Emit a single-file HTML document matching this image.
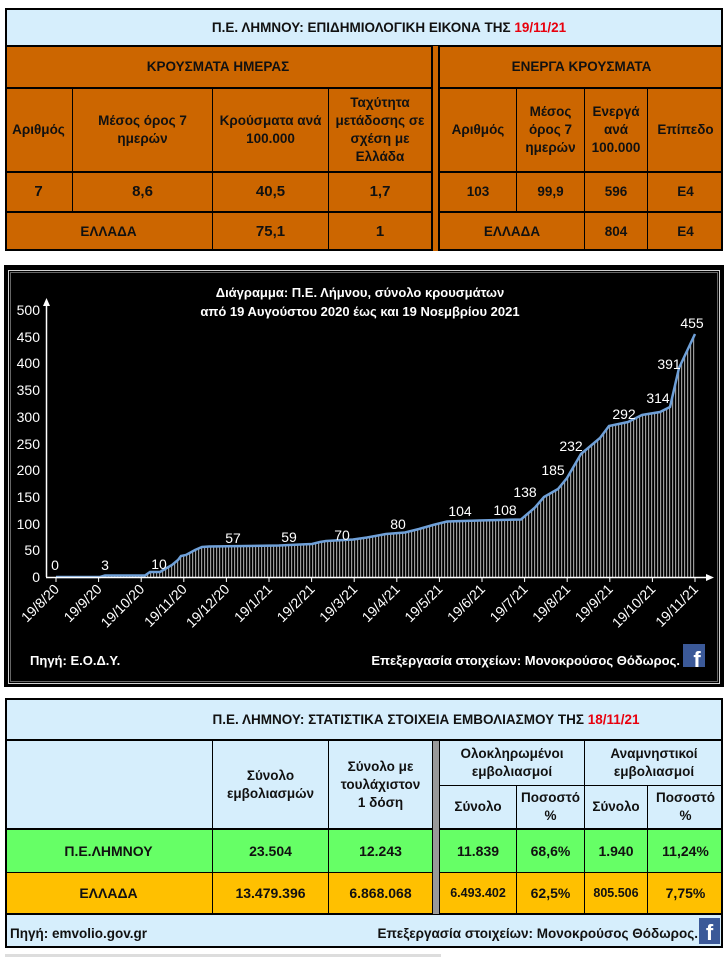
<!DOCTYPE html>
<html><head><meta charset="utf-8">
<style>
body{margin:0;width:727px;height:959px;background:#fff;position:relative;overflow:hidden;font-family:"Liberation Sans","DejaVu Sans",sans-serif;}
.a{position:absolute;box-sizing:border-box;}
.c{position:absolute;display:flex;align-items:center;justify-content:center;text-align:center;font-weight:bold;font-size:13.5px;line-height:18px;color:#111;box-sizing:border-box;}
.h{position:absolute;background:#000;}
.red{color:#e8000d;}
</style></head><body>

<!-- TOP TABLE -->
<div class="a" style="left:5px;top:8px;width:718px;height:243px;background:#cc6600;border:2px solid #000;"></div>
<div class="a" style="left:7px;top:10px;width:714px;height:36px;background:#d6eefc;"></div>
<div class="h" style="left:5px;top:45px;width:718px;height:2px"></div>
<div class="h" style="left:5px;top:87px;width:718px;height:2px"></div>
<div class="h" style="left:5px;top:171px;width:718px;height:2px"></div>
<div class="h" style="left:5px;top:211px;width:718px;height:2px"></div>
<div class="a" style="left:431px;top:46px;width:9px;height:205px;background:#cc6600;border-left:2px solid #000;border-right:2px solid #000;"></div>
<div class="h" style="left:72px;top:88px;width:1px;height:124px"></div>
<div class="h" style="left:212px;top:88px;width:1px;height:163px"></div>
<div class="h" style="left:328px;top:88px;width:1px;height:163px"></div>
<div class="h" style="left:516px;top:88px;width:1px;height:124px"></div>
<div class="h" style="left:584px;top:88px;width:1px;height:163px"></div>
<div class="h" style="left:647px;top:88px;width:1px;height:163px"></div>
<div class="c" style="left:5px;top:10px;width:718px;height:36px;padding-left:50px;">Π.Ε. ΛΗΜΝΟΥ: ΕΠΙΔΗΜΙΟΛΟΓΙΚΗ ΕΙΚΟΝΑ ΤΗΣ&nbsp;<span class="red">19/11/21</span></div>
<div class="c" style="left:5px;top:47px;width:426px;height:40px;">ΚΡΟΥΣΜΑΤΑ ΗΜΕΡΑΣ</div>
<div class="c" style="left:440px;top:47px;width:283px;height:40px;">ΕΝΕΡΓΑ ΚΡΟΥΣΜΑΤΑ</div>
<div class="c" style="left:5px;top:89px;width:67px;height:82px;">Αριθμός</div>
<div class="c" style="left:73px;top:89px;width:139px;height:82px;">Μέσος όρος 7<br>ημερών</div>
<div class="c" style="left:213px;top:89px;width:115px;height:82px;">Κρούσματα ανά<br>100.000</div>
<div class="c" style="left:329px;top:89px;width:102px;height:82px;">Ταχύτητα<br>μετάδοσης σε<br>σχέση με<br>Ελλάδα</div>
<div class="c" style="left:440px;top:89px;width:76px;height:82px;">Αριθμός</div>
<div class="c" style="left:517px;top:89px;width:67px;height:82px;">Μέσος<br>όρος 7<br>ημερών</div>
<div class="c" style="left:585px;top:89px;width:62px;height:82px;">Ενεργά<br>ανά<br>100.000</div>
<div class="c" style="left:648px;top:89px;width:75px;height:82px;">Επίπεδο</div>
<div class="c" style="left:5px;top:173px;width:67px;height:38px;font-size:15px;">7</div>
<div class="c" style="left:73px;top:173px;width:139px;height:38px;font-size:15px;">8,6</div>
<div class="c" style="left:213px;top:173px;width:115px;height:38px;font-size:15px;">40,5</div>
<div class="c" style="left:329px;top:173px;width:102px;height:38px;font-size:15px;">1,7</div>
<div class="c" style="left:440px;top:173px;width:76px;height:38px;">103</div>
<div class="c" style="left:517px;top:173px;width:67px;height:38px;">99,9</div>
<div class="c" style="left:585px;top:173px;width:62px;height:38px;">596</div>
<div class="c" style="left:648px;top:173px;width:75px;height:38px;">E4</div>
<div class="c" style="left:5px;top:213px;width:207px;height:38px;">ΕΛΛΑΔΑ</div>
<div class="c" style="left:213px;top:213px;width:115px;height:38px;font-size:15px;">75,1</div>
<div class="c" style="left:329px;top:213px;width:102px;height:38px;font-size:15px;">1</div>
<div class="c" style="left:440px;top:213px;width:144px;height:38px;">ΕΛΛΑΔΑ</div>
<div class="c" style="left:585px;top:213px;width:62px;height:38px;">804</div>
<div class="c" style="left:648px;top:213px;width:75px;height:38px;">E4</div>

<!-- CHART -->
<svg class="a" style="left:0;top:0" width="727" height="959" xmlns="http://www.w3.org/2000/svg">
<defs>
<pattern id="bars" patternUnits="userSpaceOnUse" width="3" height="10">
<rect x="0" y="0" width="1.2" height="10" fill="#9a9a9a"/>
</pattern>
</defs>
<rect x="4" y="265" width="720" height="422" fill="#000"/>
<rect x="8.5" y="270.5" width="711" height="413" fill="none" stroke="#d0d0d0" stroke-width="1"/>
<rect x="10.5" y="272.5" width="707" height="409" fill="none" stroke="#666" stroke-width="1"/>
<g font-family="Liberation Sans, sans-serif" font-weight="bold" font-size="13" fill="#fff" text-anchor="middle">
<text x="360" y="297">Διάγραμμα:  Π.Ε. Λήμνου, σύνολο κρουσμάτων</text>
<text x="360" y="316">από 19 Αυγούστου 2020  έως και 19 Νοεμβρίου 2021</text>
</g>
<path d="M56,577 L100,577 L105,575.5 L145,575.5 L150,572 L160,572 L165,569 L172,565 L178,560 L181,556 L186,555 L195,550 L202,547 L209,546.5 L279,545.5 L300,544.5 L312,544 L320,542 L326,541 L353,539.5 L367,537.5 L386,534 L405,532.5 L419,529 L433,525 L447,521.5 L479,520.5 L521,519.5 L535,507.5 L544,497 L558,489 L567,478 L581,454 L600,438 L609,426 L628,422 L642,415 L660,412 L670,407 L679,368 L695,334 L695,577 Z" fill="url(#bars)"/>
<polyline fill="none" stroke="#6fa0d8" stroke-width="2.5" points="56,577 100,577 105,575.5 145,575.5 150,572 160,572 165,569 172,565 178,560 181,556 186,555 195,550 202,547 209,546.5 279,545.5 300,544.5 312,544 320,542 326,541 353,539.5 367,537.5 386,534 405,532.5 419,529 433,525 447,521.5 479,520.5 521,519.5 535,507.5 544,497 558,489 567,478 581,454 600,438 609,426 628,422 642,415 660,412 670,407 679,368 695,334"/>
<line x1="46.5" y1="577" x2="46.5" y2="303" stroke="#fff" stroke-width="1.5"/>
<polygon points="46.5,298 43,306 50,306" fill="#fff"/>
<line x1="46" y1="577.5" x2="708" y2="577.5" stroke="#fff" stroke-width="1.5"/>
<polygon points="714,577.5 706,574 706,581" fill="#fff"/>
<g font-family="Liberation Sans, sans-serif" font-size="14" fill="#fff" text-anchor="end">
<text x="40" y="582">0</text><text x="40" y="555">50</text><text x="40" y="529">100</text><text x="40" y="502">150</text><text x="40" y="475">200</text><text x="40" y="449">250</text><text x="40" y="422">300</text><text x="40" y="395">350</text><text x="40" y="368">400</text><text x="40" y="342">450</text><text x="40" y="315">500</text>
</g>
<g stroke="#fff" stroke-width="1">
<line x1="56" y1="577" x2="56" y2="582"/><line x1="98.6" y1="577" x2="98.6" y2="582"/><line x1="141.2" y1="577" x2="141.2" y2="582"/><line x1="183.8" y1="577" x2="183.8" y2="582"/><line x1="226.4" y1="577" x2="226.4" y2="582"/><line x1="269" y1="577" x2="269" y2="582"/><line x1="311.6" y1="577" x2="311.6" y2="582"/><line x1="354.2" y1="577" x2="354.2" y2="582"/><line x1="396.8" y1="577" x2="396.8" y2="582"/><line x1="439.4" y1="577" x2="439.4" y2="582"/><line x1="482" y1="577" x2="482" y2="582"/><line x1="524.6" y1="577" x2="524.6" y2="582"/><line x1="567.2" y1="577" x2="567.2" y2="582"/><line x1="609.8" y1="577" x2="609.8" y2="582"/><line x1="652.4" y1="577" x2="652.4" y2="582"/><line x1="695" y1="577" x2="695" y2="582"/>
</g>
<g font-family="Liberation Sans, sans-serif" font-size="14" fill="#fff" text-anchor="end">
<text transform="translate(60,590) rotate(-45)">19/8/20</text>
<text transform="translate(102.6,590) rotate(-45)">19/9/20</text>
<text transform="translate(145.2,590) rotate(-45)">19/10/20</text>
<text transform="translate(187.8,590) rotate(-45)">19/11/20</text>
<text transform="translate(230.4,590) rotate(-45)">19/12/20</text>
<text transform="translate(273,590) rotate(-45)">19/1/21</text>
<text transform="translate(315.6,590) rotate(-45)">19/2/21</text>
<text transform="translate(358.2,590) rotate(-45)">19/3/21</text>
<text transform="translate(400.8,590) rotate(-45)">19/4/21</text>
<text transform="translate(443.4,590) rotate(-45)">19/5/21</text>
<text transform="translate(486,590) rotate(-45)">19/6/21</text>
<text transform="translate(528.6,590) rotate(-45)">19/7/21</text>
<text transform="translate(571.2,590) rotate(-45)">19/8/21</text>
<text transform="translate(613.8,590) rotate(-45)">19/9/21</text>
<text transform="translate(656.4,590) rotate(-45)">19/10/21</text>
<text transform="translate(699,590) rotate(-45)">19/11/21</text>
</g>
<g font-family="Liberation Sans, sans-serif" font-size="14" fill="#fff" text-anchor="middle">
<text x="55" y="570">0</text><text x="105" y="570">3</text><text x="159" y="569">10</text><text x="233" y="543">57</text><text x="289" y="542">59</text><text x="342" y="540">70</text><text x="398" y="529">80</text><text x="460" y="516">104</text><text x="505" y="515">108</text><text x="525" y="497">138</text><text x="553" y="475">185</text><text x="571" y="451">232</text><text x="624" y="419">292</text><text x="658" y="403">314</text><text x="669" y="369">391</text><text x="692" y="328">455</text>
</g>
<g font-family="Liberation Sans, sans-serif" font-weight="bold" font-size="13" fill="#fff">
<text x="30" y="665">Πηγή: Ε.Ο.Δ.Υ.</text>
<text x="680" y="665" text-anchor="end">Επεξεργασία στοιχείων: Μονοκρούσος Θόδωρος.</text>
</g>
<rect x="683" y="644" width="22" height="23" fill="#3b5998"/>
<text x="697" y="667" font-family="Liberation Sans, sans-serif" font-weight="bold" font-size="22" fill="#fff" text-anchor="middle">f</text>
</svg>

<!-- BOTTOM TABLE -->
<div class="a" style="left:5px;top:698px;width:718px;height:250px;background:#d6eefc;border:2px solid #000;"></div>
<div class="h" style="left:5px;top:739px;width:718px;height:2px"></div>
<div class="a" style="left:7px;top:829px;width:714px;height:44px;background:#66ff66;"></div>
<div class="a" style="left:7px;top:873px;width:714px;height:41px;background:#ffc000;"></div>
<div class="h" style="left:5px;top:828px;width:718px;height:2px"></div>
<div class="h" style="left:5px;top:872px;width:718px;height:1px"></div>
<div class="h" style="left:5px;top:913px;width:718px;height:2px"></div>
<div class="h" style="left:440px;top:785px;width:283px;height:1px"></div>
<div class="a" style="left:432px;top:741px;width:8px;height:173px;background:#999;border-left:1px solid #000;border-right:1px solid #000;"></div>
<div class="h" style="left:212px;top:741px;width:1px;height:173px"></div>
<div class="h" style="left:328px;top:741px;width:1px;height:173px"></div>
<div class="h" style="left:516px;top:786px;width:1px;height:128px"></div>
<div class="h" style="left:584px;top:741px;width:1px;height:173px"></div>
<div class="h" style="left:647px;top:786px;width:1px;height:128px"></div>
<div class="c" style="left:5px;top:700px;width:718px;height:39px;padding-left:124px;">Π.Ε. ΛΗΜΝΟΥ: ΣΤΑΤΙΣΤΙΚΑ ΣΤΟΙΧΕΙΑ ΕΜΒΟΛΙΑΣΜΟΥ ΤΗΣ&nbsp;<span class="red">18/11/21</span></div>
<div class="c" style="left:213px;top:741px;width:115px;height:87px;">Σύνολο<br>εμβολιασμών</div>
<div class="c" style="left:329px;top:741px;width:103px;height:87px;">Σύνολο με<br>τουλάχιστον<br>1 δόση</div>
<div class="c" style="left:440px;top:741px;width:144px;height:44px;">Ολοκληρωμένοι<br>εμβολιασμοί</div>
<div class="c" style="left:585px;top:741px;width:138px;height:44px;">Αναμνηστικοί<br>εμβολιασμοί</div>
<div class="c" style="left:440px;top:786px;width:76px;height:42px;">Σύνολο</div>
<div class="c" style="left:517px;top:786px;width:67px;height:42px;">Ποσοστό<br>%</div>
<div class="c" style="left:585px;top:786px;width:62px;height:42px;">Σύνολο</div>
<div class="c" style="left:648px;top:786px;width:75px;height:42px;">Ποσοστό<br>%</div>
<div class="c" style="left:5px;top:830px;width:207px;height:42px;font-size:14px;">Π.Ε.ΛΗΜΝΟΥ</div>
<div class="c" style="left:213px;top:830px;width:115px;height:42px;font-size:14px;">23.504</div>
<div class="c" style="left:329px;top:830px;width:103px;height:42px;font-size:14px;">12.243</div>
<div class="c" style="left:440px;top:830px;width:76px;height:42px;font-size:14px;">11.839</div>
<div class="c" style="left:517px;top:830px;width:67px;height:42px;font-size:14px;">68,6%</div>
<div class="c" style="left:585px;top:830px;width:62px;height:42px;font-size:14px;">1.940</div>
<div class="c" style="left:648px;top:830px;width:75px;height:42px;font-size:14px;">11,24%</div>
<div class="c" style="left:5px;top:873px;width:207px;height:40px;font-size:14px;">ΕΛΛΑΔΑ</div>
<div class="c" style="left:213px;top:873px;width:115px;height:40px;font-size:14px;">13.479.396</div>
<div class="c" style="left:329px;top:873px;width:103px;height:40px;font-size:14px;">6.868.068</div>
<div class="c" style="left:440px;top:873px;width:76px;height:40px;font-size:12.5px;">6.493.402</div>
<div class="c" style="left:517px;top:873px;width:67px;height:40px;font-size:14px;">62,5%</div>
<div class="c" style="left:585px;top:873px;width:62px;height:40px;font-size:12.5px;">805.506</div>
<div class="c" style="left:648px;top:873px;width:75px;height:40px;font-size:14px;">7,75%</div>
<div class="c" style="left:10px;top:924px;height:20px;justify-content:flex-start;">Πηγή: emvolio.gov.gr</div>
<div class="c" style="left:300px;top:924px;width:398px;height:20px;justify-content:flex-end;">Επεξεργασία στοιχείων: Μονοκρούσος Θόδωρος.</div>
<div class="a" style="left:699px;top:918px;width:21px;height:26px;background:#3b5998;color:#fff;font-weight:bold;font-size:22px;text-align:center;line-height:30px;">f</div>
<div class="a" style="left:5px;top:954px;width:436px;height:3px;background:#ddd;"></div>
</body></html>
